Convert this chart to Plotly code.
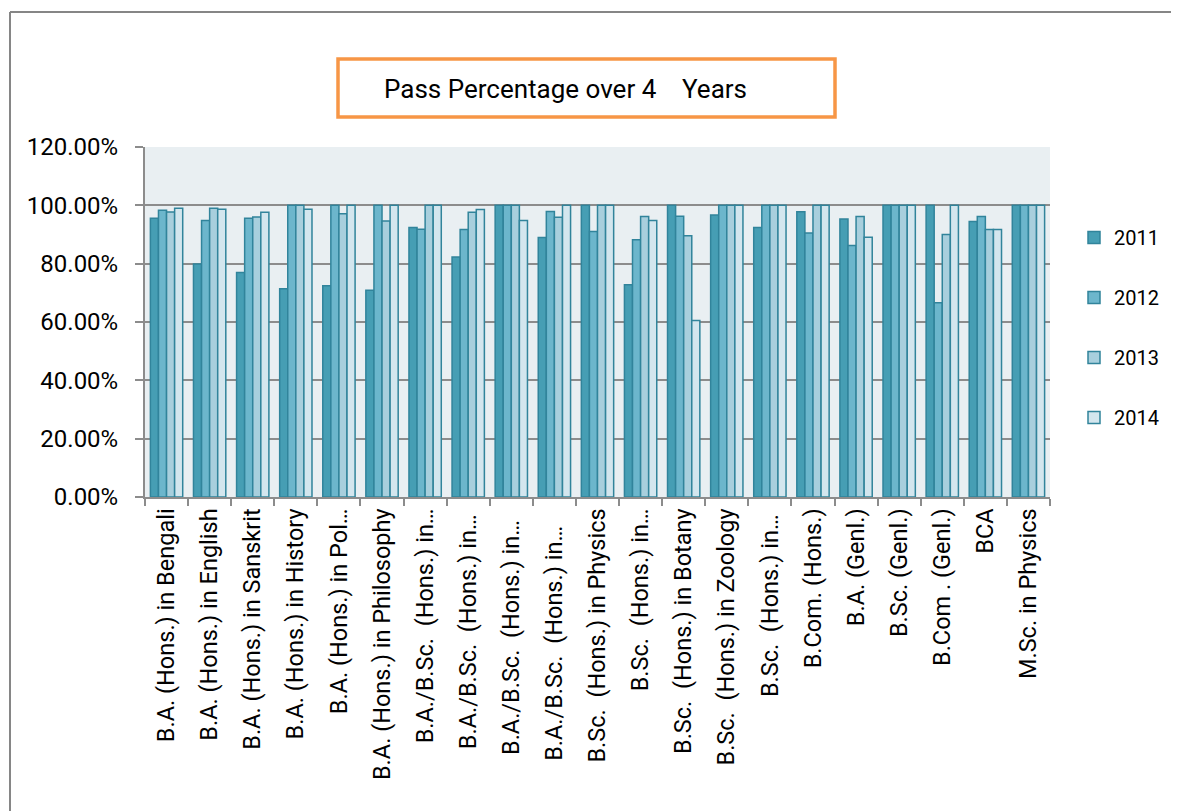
import plotly.graph_objects as go

categories = [
    "B.A. (Hons.) in Bengali", "B.A. (Hons.) in English", "B.A. (Hons.) in Sanskrit",
    "B.A. (Hons.) in History", "B.A. (Hons.) in Pol…", "B.A. (Hons.) in Philosophy",
    "B.A./B.Sc.  (Hons.) in…", "B.A./B.Sc.  (Hons.) in… ", "B.A./B.Sc.  (Hons.) in…  ",
    "B.A./B.Sc.  (Hons.) in…   ", "B.Sc.  (Hons.) in Physics", "B.Sc.  (Hons.) in…",
    "B.Sc.  (Hons.) in Botany", "B.Sc.  (Hons.) in Zoology", "B.Sc.  (Hons.) in… ",
    "B.Com. (Hons.)", "B.A. (Genl.)", "B.Sc. (Genl.)", "B.Com . (Genl.)", "BCA",
    "M.Sc. in Physics",
]
years = ["2011", "2012", "2013", "2014"]
v2011 = [95.6, 79.9, 77.0, 71.4, 72.4, 70.9, 92.4, 82.3, 100, 89.0, 100, 72.8, 100, 96.7, 92.4, 97.8, 95.3, 100, 100, 94.5, 100]
v2012 = [98.3, 94.8, 95.6, 100, 100, 100, 91.8, 91.7, 100, 97.9, 91.0, 88.2, 96.3, 100, 100, 90.5, 86.2, 100, 66.6, 96.2, 100]
v2013 = [97.7, 99.0, 96.0, 100, 97.1, 94.6, 100, 97.6, 100, 95.9, 100, 96.2, 89.6, 100, 100, 100, 96.2, 100, 90.0, 91.7, 100]
v2014 = [99.0, 98.7, 97.6, 98.7, 100, 100, 100, 98.6, 94.8, 100, 100, 94.8, 60.5, 100, 100, 100, 89.1, 100, 100, 91.7, 100]
series = [v2011, v2012, v2013, v2014]
colors = ["#469EB4", "#6CB6CC", "#A8CFDD", "#D3E6EE"]

FONT = "Roboto"
fig = go.Figure()
for yr, vals, col in zip(years, series, colors):
    fig.add_trace(go.Bar(
        name=yr, x=categories, y=[v / 100 for v in vals],
        marker=dict(color=col, line=dict(color="#31849B", width=1.5)),
        legendgroup=yr,
    ))

OFF = 8  # page body margin
W, H = 1179 - OFF, 811 - OFF
L, R, T, B = 145 - OFF, 129, 147 - OFF, 314
pw, ph = W - L - R, H - T - B

def px(x):
    return (x - OFF - L) / pw

def py(y):
    return 1 - (y - OFF - T) / ph

fig.update_layout(
    width=W, height=H,
    margin=dict(l=L, r=R, t=T, b=B, autoexpand=False),
    paper_bgcolor="white", plot_bgcolor="#E9EFF2",
    barmode="group", bargap=0.25, bargroupgap=0,
    font=dict(family=FONT, size=23, color="black"),
    showlegend=True,
    legend=dict(x=px(1074), y=py(218), xanchor="left", yanchor="top",
                font=dict(size=20), traceorder="grouped", tracegroupgap=31,
                bgcolor="rgba(0,0,0,0)"),
    xaxis=dict(tickangle=-90, showline=True, linecolor="#8C8C8C", linewidth=2,
               ticks="outside", tickson="boundaries", ticklen=7, tickcolor="#8C8C8C",
               tickwidth=2, tickfont=dict(size=23.5), showgrid=False),
    yaxis=dict(range=[0, 1.2], tickvals=[0, 0.2, 0.4, 0.6, 0.8, 1.0, 1.2],
               tickformat=".2%", showline=True, linecolor="#8C8C8C", linewidth=2,
               ticks="outside", ticklen=8, tickcolor="#8C8C8C", tickwidth=2,
               gridcolor="#8C8C8C", gridwidth=2, zeroline=False,
               ticklabelstandoff=12, tickfont=dict(size=24)),
    shapes=[
        dict(type="line", xref="paper", yref="paper", x0=px(10), x1=px(10),
             y0=py(815), y1=py(12), line=dict(color="#868686", width=2)),
        dict(type="line", xref="paper", yref="paper", x0=px(10), x1=px(1185),
             y0=py(12), y1=py(12), line=dict(color="#868686", width=2)),
        dict(type="rect", xref="paper", yref="paper", x0=px(338), x1=px(835),
             y0=py(117), y1=py(59), line=dict(color="#F79646", width=3.5),
             fillcolor="white"),
    ],
    annotations=[
        dict(text="Pass Percentage over 4    Years", xref="paper", yref="paper",
             x=px(565), y=py(89), xanchor="center", yanchor="middle",
             showarrow=False, font=dict(size=26, family=FONT, color="black")),
    ],
)

fig.write_html("out.html")
